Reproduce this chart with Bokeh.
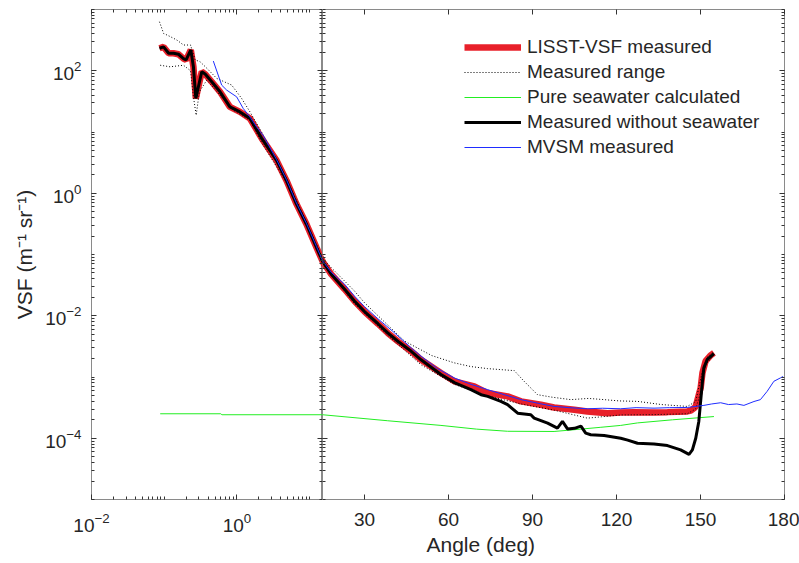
from bokeh.plotting import figure
from bokeh.models import (FixedTicker, LogAxis, LinearAxis, CustomJSTickFormatter,
                          Legend, LegendItem, Title, Range1d)
from bokeh.layouts import row
from bokeh.embed import file_html
from bokeh.resources import INLINE

# ---------------- data (angle in deg, VSF in m^-1 sr^-1) ----------------
lisst_angle = [0.086, 0.098, 0.115, 0.134, 0.157, 0.184, 0.20, 0.232, 0.252, 0.272,
               0.295, 0.328, 0.365, 0.45, 0.585, 0.80, 1.10, 1.51, 2.18, 3.5,
               4.8, 6.57, 9.0, 12.4, 15.3, 18.1, 22.9, 26.4, 30.0, 34.8,
               38.3, 42.0, 46.7, 50.2, 57.3, 62.1, 69.2, 74.0, 81.1, 85.9,
               93.0, 97.7, 104.9, 109.6, 116.8, 121.5, 126.3, 133.4, 138.2, 145.3,
               146.5, 147.7, 148.3, 149.4, 150.05, 150.7, 151.8, 153.6, 154.8]
lisst_vsf = [233, 245, 193, 193, 186, 158, 150, 219, 116, 35.3,
             54.7, 96.4, 88.3, 66.1, 45.3, 25.7, 21.3, 16.6, 7.94, 3.44,
             1.61, 0.670, 0.315, 0.130, 0.0740, 0.0478, 0.0271, 0.0174, 0.0117, 0.00741,
             0.00525, 0.00380, 0.00263, 0.00191, 0.00116, 0.000851, 0.000705, 0.000547, 0.000483, 0.000400,
             0.000353, 0.000318, 0.000292, 0.000274, 0.000257, 0.000264, 0.000267, 0.000264, 0.000267, 0.000274,
             0.000282, 0.000310, 0.000331, 0.000514, 0.000661, 0.00117, 0.00181, 0.00226, 0.00247]

range_hi_angle = [0.086, 0.098, 0.12, 0.15, 0.184, 0.23, 0.266, 0.31, 0.385, 0.527,
                  0.846, 1.16, 1.51, 2.3, 4.8, 9.0, 15.3, 18.1, 26.4, 30.0,
                  44.3, 54.0, 62.1, 68.0, 74.0, 78.7, 83.5, 87.0, 91.8, 97.0,
                  103.7, 110.0, 115.6, 121.0, 127.5, 136.0, 145.3, 148.3, 150.7, 152.4, 154.8]
range_hi_vsf = [631, 407, 363, 316, 263, 263, 150, 141, 110, 75.0,
                58.3, 35.3, 21.3, 8.91, 1.74, 0.339, 0.0832, 0.0612, 0.0254, 0.0163,
                0.00385, 0.00224, 0.00170, 0.00148, 0.00137, 0.00132, 0.00127, 0.000851, 0.000514, 0.000468,
                0.000427, 0.000447, 0.000427, 0.000407, 0.000400, 0.000355, 0.000331, 0.000398, 0.00126, 0.00209, 0.00263]

range_lo_angle = [0.088, 0.12, 0.184, 0.23, 0.252, 0.275, 0.304, 0.385, 0.585, 0.89,
                  1.51, 2.18, 4.8, 9.0, 15.3, 26.4, 38.3, 50.2, 62.1, 74.0,
                  85.9, 97.7, 109.6, 121.5, 133.4, 145.3, 148.3, 150.05, 151.8, 154.8]
range_lo_vsf = [123, 116, 123, 100, 37.5, 18.8, 45.3, 70.5, 39.8, 22.7,
                15.5, 6.76, 1.48, 0.295, 0.0692, 0.0158, 0.00479, 0.00158, 0.000759, 0.000490,
                0.000363, 0.000288, 0.000213, 0.000240, 0.000243, 0.000251, 0.000302, 0.000562, 0.00158, 0.00229]

water_angle = [0.088, 0.6, 0.62, 15.0, 38.3, 57.3, 70.0, 81.1, 97.7, 107.3,
               114.4, 121.5, 127.5, 140.0, 154.8]
water_vsf = [2.51e-4, 2.51e-4, 2.42e-4, 2.42e-4, 1.93e-4, 1.62e-4, 1.41e-4, 1.30e-4, 1.29e-4, 1.41e-4,
             1.51e-4, 1.62e-4, 1.78e-4, 2.00e-4, 2.26e-4]

nowater_angle = [0.086, 0.098, 0.115, 0.134, 0.157, 0.184, 0.20, 0.232, 0.252, 0.272,
                 0.295, 0.328, 0.365, 0.45, 0.585, 0.80, 1.10, 1.51, 2.18, 3.5,
                 4.8, 6.57, 9.0, 12.4, 15.3, 18.1, 22.9, 26.4, 30.0, 34.8,
                 38.3, 42.0, 46.7, 50.2, 57.3, 62.1, 68.0, 71.6, 74.0, 78.7,
                 81.1, 84.7, 89.4, 90.6, 95.4, 98.9, 100.7, 102.5, 105.0, 107.3,
                 109.0, 110.8, 115.6, 121.5, 124.0, 127.5, 133.4, 138.2, 142.9, 145.9,
                 147.1, 148.3, 149.4, 150.05, 150.7, 151.2, 152.4, 154.2, 154.8]
nowater_vsf = [233, 245, 193, 193, 186, 158, 150, 219, 116, 35.3,
               54.7, 96.4, 88.3, 66.1, 45.3, 25.7, 21.3, 16.6, 7.94, 3.44,
               1.61, 0.670, 0.315, 0.130, 0.0740, 0.0478, 0.0271, 0.0174, 0.0117, 0.00741,
               0.00525, 0.00380, 0.00263, 0.00191, 0.00110, 0.000813, 0.000621, 0.000514, 0.000483, 0.000400,
               0.000353, 0.000257, 0.000242, 0.000213, 0.000176, 0.000146, 0.000188, 0.000142, 0.000145, 0.000158,
               0.000121, 0.000114, 0.000111, 0.000100, 0.0000933, 0.0000828, 0.0000809, 0.0000759, 0.0000646, 0.0000547,
               0.0000646, 0.000100, 0.000188, 0.000400, 0.000851, 0.00141, 0.00193, 0.00227, 0.00240]

mvsm_angle = [0.473, 0.616, 0.722, 0.99, 1.22, 1.51, 1.86, 2.29, 3.5, 4.8,
              6.57, 9.0, 12.4, 15.3, 18.1, 22.9, 26.4, 30.0, 34.8, 40.0,
              46.7, 50.2, 56.0, 62.1, 68.0, 74.0, 80.0, 85.9, 92.0, 97.7,
              103.0, 109.6, 115.0, 121.5, 127.0, 133.4, 139.0, 145.3, 151.2, 154.0,
              157.2, 160.0, 163.0, 165.5, 169.1, 171.4, 173.8, 176.2, 178.5, 179.5]
mvsm_vsf = [144, 58.3, 48.3, 37.5, 24.2, 17.6, 12.1, 8.83, 3.55, 1.66,
            0.692, 0.324, 0.135, 0.0759, 0.0513, 0.0327, 0.0210, 0.0141, 0.00891, 0.00562,
            0.00299, 0.00219, 0.00138, 0.000964, 0.000759, 0.000621, 0.000513, 0.000427, 0.000372, 0.000331,
            0.000316, 0.000303, 0.000309, 0.000303, 0.000316, 0.000310, 0.000316, 0.000318, 0.000344, 0.000363,
            0.000380, 0.000355, 0.000363, 0.000344, 0.000398, 0.000427, 0.000583, 0.000851, 0.000964, 0.00102]

legend_labels = ["LISST-VSF measured", "Measured range", "Pure seawater calculated",
                 "Measured without seawater", "MVSM measured"]

y_major = [1e-4, 1e-2, 1.0, 1e2]
x_log_major = [0.01, 1.0]
x_lin_major = [30, 60, 90, 120, 150, 180]

# ---------------- styling ----------------
FONT = "Liberation Sans"
BOX = "#8a8a8a"
TICK = "#333333"
TXT = "#262626"
FS = "19px"
LFS = "21px"
RED = "#e8202a"
GREEN = "#22ee22"
BLUE = "#1f2dff"

y_minor = [m * 10.0 ** k for k in range(-5, 3) for m in range(1, 10)] + [1e3]
x_log_minor = [m * 10.0 ** k for k in range(-2, 2) for m in range(1, 10) if m * 10.0 ** k <= 15]

blank = CustomJSTickFormatter(code="return ''")


def style_axis(ax, labels=True):
    ax.axis_line_color = None
    ax.major_tick_line_color = TICK
    ax.minor_tick_line_color = TICK
    ax.major_tick_in = 5
    ax.major_tick_out = 0
    ax.minor_tick_in = 3
    ax.minor_tick_out = 0
    ax.major_label_text_font = FONT
    ax.major_label_text_font_size = FS
    ax.major_label_text_color = TXT
    if not labels:
        ax.formatter = blank
        ax.major_label_standoff = 0
        ax.major_label_text_font_size = "0px"


def base_fig(**kw):
    p = figure(output_backend="svg", toolbar_location=None, frame_height=490,
               min_border_top=9, min_border_bottom=64, **kw)
    p.outline_line_color = BOX
    p.outline_line_width = 1
    p.grid.visible = False
    p.background_fill_color = "white"
    p.border_fill_color = "white"
    return p


yr = Range1d(1e-5, 1e3)

# left panel: log angle axis
p1 = base_fig(x_axis_type="log", y_axis_type="log", x_range=Range1d(0.01, 15), y_range=yr,
              frame_width=231, min_border_left=91, min_border_right=0)
p1.xaxis.ticker = FixedTicker(ticks=x_log_major, minor_ticks=x_log_minor)
p1.yaxis.ticker = FixedTicker(ticks=y_major, minor_ticks=y_minor)
style_axis(p1.xaxis[0])
style_axis(p1.yaxis[0])
p1.xaxis.major_label_standoff = 13
p1.yaxis.major_label_standoff = 10
p1.yaxis.axis_label = "VSF (m\u207b\u00b9 sr\u207b\u00b9)"
p1.yaxis.axis_label_text_font = FONT
p1.yaxis.axis_label_text_font_size = LFS
p1.yaxis.axis_label_text_font_style = "normal"
p1.yaxis.axis_label_text_color = TXT
p1.yaxis.axis_label_standoff = 6
ax = LogAxis(ticker=FixedTicker(ticks=y_major, minor_ticks=y_minor))
style_axis(ax, labels=False)
p1.add_layout(ax, "right")
ax = LogAxis(ticker=FixedTicker(ticks=x_log_major, minor_ticks=x_log_minor))
style_axis(ax, labels=False)
p1.add_layout(ax, "above")

# right panel: linear angle axis
p2 = base_fig(y_axis_type="log", x_range=Range1d(15, 180), y_range=yr,
              frame_width=462, min_border_left=0, min_border_right=15)
p2.xaxis.ticker = FixedTicker(ticks=x_lin_major, minor_ticks=[])
p2.yaxis.ticker = FixedTicker(ticks=y_major, minor_ticks=y_minor)
style_axis(p2.xaxis[0])
style_axis(p2.yaxis[0], labels=False)
p2.xaxis.major_label_standoff = 13
ax = LogAxis(ticker=FixedTicker(ticks=y_major, minor_ticks=y_minor))
style_axis(ax, labels=False)
p2.add_layout(ax, "right")
ax = LinearAxis(ticker=FixedTicker(ticks=x_lin_major, minor_ticks=[]))
style_axis(ax, labels=False)
p2.add_layout(ax, "above")

rends = {}
for p in (p1, p2):
    r_red = p.line(lisst_angle, lisst_vsf, line_color=RED, line_width=6.5)
    r_hi = p.line(range_hi_angle, range_hi_vsf, line_color="black", line_width=1, line_dash="1 2")
    p.line(range_lo_angle, range_lo_vsf, line_color="black", line_width=1, line_dash="1 2")
    r_g = p.line(water_angle, water_vsf, line_color=GREEN, line_width=1)
    r_k = p.line(nowater_angle, nowater_vsf, line_color="black", line_width=3)
    r_b = p.line(mvsm_angle, mvsm_vsf, line_color=BLUE, line_width=1)
    rends[p] = [r_red, r_hi, r_g, r_k, r_b]

legend = Legend(items=[LegendItem(label=l, renderers=[r]) for l, r in zip(legend_labels, rends[p2])],
                location=(142, 341), border_line_color=None, background_fill_alpha=0,
                padding=0, margin=0, spacing=3, label_height=22, glyph_height=22,
                glyph_width=57, label_standoff=6, label_text_font=FONT,
                label_text_font_size=FS, label_text_color=TXT)
p2.add_layout(legend)

xlabel = Title(text="Angle (deg)", align="left", offset=104, standoff=5,
               text_font=FONT, text_font_size=LFS, text_font_style="normal", text_color=TXT)
p2.add_layout(xlabel, "below")

layout = row(p1, p2, spacing=0)
open("out.html", "w").write(file_html(layout, INLINE))
